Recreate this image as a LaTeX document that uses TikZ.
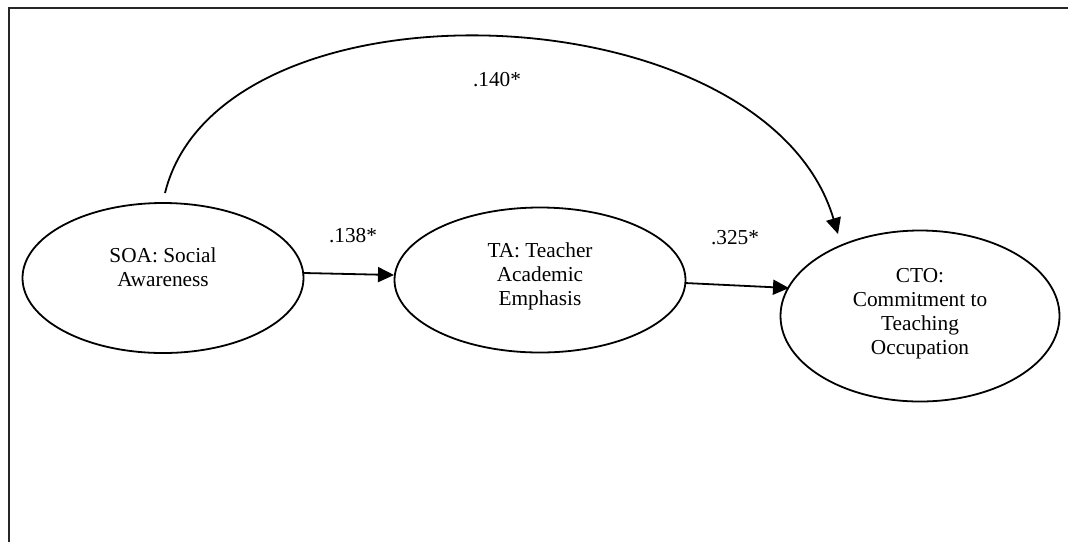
\documentclass[tikz,border=0pt]{standalone}
\usepackage{fontspec}
\setmainfont{Liberation Serif}
\usetikzlibrary{shapes.geometric,arrows.meta}
\begin{document}
\begin{tikzpicture}[x=1pt,y=-1pt,
  oval/.style={draw,ellipse,line width=1.8pt,inner sep=0pt},
  txt/.style={align=center,font=\fontsize{21.3}{24}\selectfont,inner sep=0pt},
  lbl/.style={font=\fontsize{21.3}{24}\selectfont,inner sep=0pt},
  arr/.style={line width=1.8pt,-{Triangle[length=16pt,width=15pt]}}]
\useasboundingbox (0,0) rectangle (1068,542);
\coordinate (fl) at (9,542);
\coordinate (fc) at (9,8);
\coordinate (fr) at (1068,8);
\draw[line width=1.8pt,black!85] (fl) -- (fc) -- (fr);
\node[oval,minimum width=281pt,minimum height=150pt] (soa) at (163,278) {};
\node[oval,minimum width=291pt,minimum height=145pt] (ta) at (540,280) {};
\node[oval,minimum width=279pt,minimum height=171pt] (cto) at (920,316) {};
\node[txt] (soat) at (163,267) {SOA: Social\\Awareness};
\node[txt] (tat) at (540,276) {TA: Teacher\\Academic\\Emphasis};
\node[txt] (ctot) at (920,314) {CTO:\\Commitment to\\Teaching\\Occupation};
\coordinate (s1) at (304,273);
\coordinate (t1) at (394,275);
\coordinate (s2) at (685,283);
\coordinate (t2) at (789,288);
\coordinate (cs) at (165,193);
\coordinate (ce) at (838,234);
\draw[arr] (s1) -- (t1);
\draw[arr] (s2) -- (t2);
\draw[arr] (cs) .. controls (220,-30) and (765,-12) .. (ce);
\node[lbl] (l1) at (353,236) {.138*};
\node[lbl] (l2) at (735,238) {.325*};
\node[lbl] (l3) at (497,80) {.140*};
\end{tikzpicture}
\end{document}
